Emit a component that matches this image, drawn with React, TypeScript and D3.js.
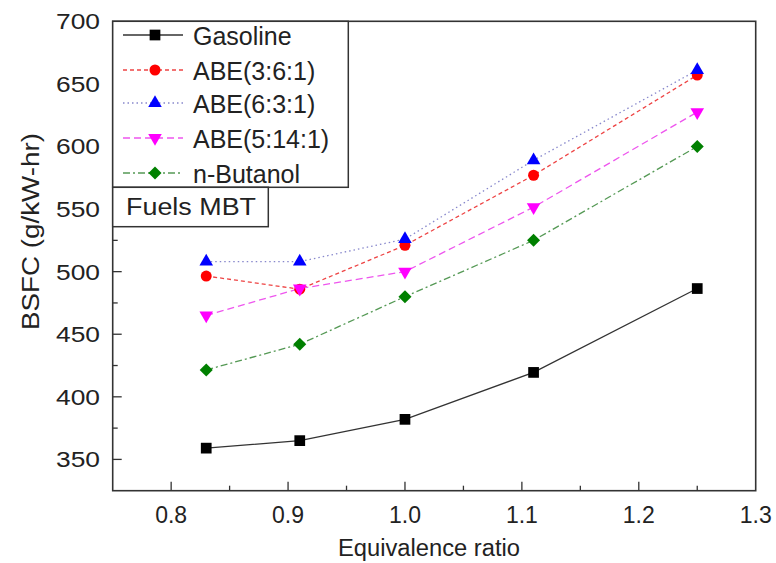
import React from "react";
import * as d3 from "d3";

const equivalenceRatio = [0.83, 0.91, 1.0, 1.11, 1.25];
const seriesNames = ["Gasoline", "ABE(3:6:1)", "ABE(6:3:1)", "ABE(5:14:1)", "n-Butanol"];
const gasoline = [359, 365, 382, 419.5, 486.5];
const abe361 = [496.5, 486, 521, 577, 657];
const abe631 = [508, 508, 526, 589, 661];
const abe5141 = [465, 486.5, 500, 551.5, 627.5];
const nButanol = [421.5, 442, 480, 525, 600];
const xTicks = [0.8, 0.9, 1.0, 1.1, 1.2, 1.3];
const xMinorTicks = [0.85, 0.95, 1.05, 1.15, 1.25];
const yTicks = [350, 400, 450, 500, 550, 600, 650, 700];
const yMinorTicks = [375, 425, 475, 525, 575, 625, 675];

const seriesValues = [gasoline, abe361, abe631, abe5141, nButanol];
const styles = [
  { color: "#000000", line: "#333333", dash: "", symbol: d3.symbolSquare, size: 115, rotate: 0 },
  { color: "#ff0000", line: "#ee4444", dash: "4,3", symbol: d3.symbolCircle, size: 95, rotate: 0 },
  { color: "#0000ff", line: "#8888cc", dash: "1.5,3", symbol: d3.symbolTriangle, size: 80, rotate: 0 },
  { color: "#ff00ff", line: "#ee55ee", dash: "7,4", symbol: d3.symbolTriangle, size: 80, rotate: 180 },
  { color: "#008000", line: "#559955", dash: "7,3,2,3", symbol: d3.symbolSquare, size: 85, rotate: 45 },
];

const W = 776;
const H = 563;
const left = 112.7, right = 755.7, top = 21.3, bottom = 490.7;
const FONT = "Liberation Sans, Arial, sans-serif";

export default function App() {
  const x = d3.scaleLinear().domain([0.75, 1.3]).range([left, right]);
  const y = d3.scaleLinear().domain([325, 700]).range([bottom, top]);
  const line = d3
    .line<[number, number]>()
    .x((d) => x(d[0]))
    .y((d) => y(d[1]));

  const sym = (i: number) => d3.symbol().type(styles[i].symbol).size(styles[i].size)() as string;

  const legendRowY = [35, 70, 103, 138, 173];

  return (
    <div style={{ position: "fixed", left: 0, top: 0 }}>
      <svg width={W} height={H} style={{ display: "block", background: "#fff" }}>
        <rect x={0} y={0} width={W} height={H} fill="#fff" />
        {/* data lines */}
        {seriesValues.map((vals, i) => (
          <path
            key={"l" + i}
            d={line(vals.map((v, j) => [equivalenceRatio[j], v] as [number, number])) as string}
            fill="none"
            stroke={styles[i].line}
            strokeWidth={1.3}
            strokeDasharray={styles[i].dash}
          />
        ))}
        {/* markers */}
        {seriesValues.map((vals, i) =>
          vals.map((v, j) => (
            <path
              key={"m" + i + "-" + j}
              d={sym(i)}
              transform={`translate(${x(equivalenceRatio[j])},${y(v)}) rotate(${styles[i].rotate})`}
              fill={styles[i].color}
            />
          ))
        )}
        {/* frame */}
        <rect x={left} y={top} width={right - left} height={bottom - top} fill="none" stroke="#333" strokeWidth={1.6} />
        {/* x ticks */}
        {xTicks.map((t) => (
          <g key={"xt" + t}>
            {t < 1.3 && <line x1={x(t)} x2={x(t)} y1={bottom} y2={bottom - 9} stroke="#333" strokeWidth={1.3} />}
            <text x={x(t)} y={523} textAnchor="middle" fontFamily={FONT} fontSize={23} fill="#222">
              {t.toFixed(1)}
            </text>
          </g>
        ))}
        {xMinorTicks.map((t) => (
          <line key={"xm" + t} x1={x(t)} x2={x(t)} y1={bottom} y2={bottom - 5} stroke="#333" strokeWidth={1.3} />
        ))}
        {/* y ticks */}
        {yTicks.map((t) => (
          <g key={"yt" + t}>
            {t < 700 && <line x1={left} x2={left + 9} y1={y(t)} y2={y(t)} stroke="#333" strokeWidth={1.3} />}
            <text
              x={100}
              y={y(t) + 8}
              textAnchor="end"
              fontFamily={FONT}
              fontSize={22}
              fill="#222"
              textLength={44}
              lengthAdjust="spacingAndGlyphs"
            >
              {t}
            </text>
          </g>
        ))}
        {yMinorTicks.map((t) => (
          <line key={"ym" + t} x1={left} x2={left + 5} y1={y(t)} y2={y(t)} stroke="#333" strokeWidth={1.3} />
        ))}
        {/* axis titles */}
        <text x={429} y={556} textAnchor="middle" fontFamily={FONT} fontSize={23} fill="#222" textLength={182} lengthAdjust="spacingAndGlyphs">
          Equivalence ratio
        </text>
        <text
          transform="translate(39,231.5) rotate(-90)"
          textAnchor="middle"
          fontFamily={FONT}
          fontSize={23}
          fill="#222"
          textLength={197}
          lengthAdjust="spacingAndGlyphs"
        >
          BSFC (g/kW-hr)
        </text>
        {/* legend */}
        <rect x={left} y={top} width={348.3 - left} height={187.3 - top} fill="#fff" stroke="#333" strokeWidth={1.5} />
        {seriesNames.map((name, i) => (
          <g key={"lg" + i}>
            <line x1={123} x2={183} y1={legendRowY[i]} y2={legendRowY[i]} stroke={styles[i].line} strokeWidth={1.3} strokeDasharray={styles[i].dash} />
            <path d={sym(i)} transform={`translate(155,${legendRowY[i]}) rotate(${styles[i].rotate})`} fill={styles[i].color} />
            <text x={193} y={legendRowY[i] + 9.5} fontFamily={FONT} fontSize={25} fill="#222">
              {name}
            </text>
          </g>
        ))}
        <rect x={left} y={187.3} width={268.3 - left} height={226.7 - 187.3} fill="#fff" stroke="#333" strokeWidth={1.5} />
        <text x={126} y={215} fontFamily={FONT} fontSize={23} fill="#222" textLength={130} lengthAdjust="spacingAndGlyphs">
          Fuels MBT
        </text>
      </svg>
    </div>
  );
}
